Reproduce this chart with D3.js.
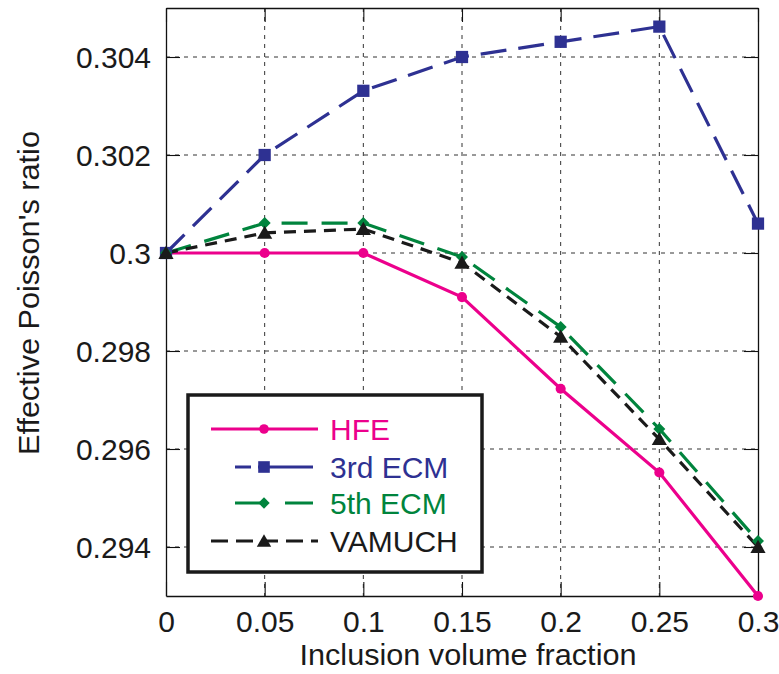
<!DOCTYPE html>
<html><head><meta charset="utf-8">
<script src="https://cdn.jsdelivr.net/npm/d3@7"></script>
<style>body{margin:0;background:#fff}svg{display:block}</style>
</head><body>
<svg id="c" width="779" height="674"></svg>
<script>
const xValues = [0, 0.05, 0.1, 0.15, 0.2, 0.25, 0.3];
const hfe     = [0.3, 0.3, 0.3, 0.2991, 0.29723, 0.29552, 0.293];
const ecm3    = [0.3, 0.302, 0.30331, 0.304, 0.30431, 0.30462, 0.3006];
const ecm5    = [0.3, 0.30061, 0.30061, 0.29992, 0.29849, 0.29641, 0.29412];
const vamuch  = [0.3, 0.30041, 0.30049, 0.2998, 0.29829, 0.2962, 0.294];
const xTicks = [0, 0.05, 0.1, 0.15, 0.2, 0.25, 0.3];
const xTickLabels = ["0", "0.05", "0.1", "0.15", "0.2", "0.25", "0.3"];
const yTicks = [0.294, 0.296, 0.298, 0.3, 0.302, 0.304];
const yTickLabels = ["0.294", "0.296", "0.298", "0.3", "0.302", "0.304"];
const seriesNames = ["HFE", "3rd ECM", "5th ECM", "VAMUCH"];

const series = [
  {name: seriesNames[0], vals: hfe, color: "#EC008C", dash: null, marker: "circle", legDash: null, lx1: 211, lx2: 318},
  {name: seriesNames[1], vals: ecm3, color: "#2E3192", dash: "26,12", marker: "square", legDash: "16,7,200", lx1: 235, lx2: 313},
  {name: seriesNames[2], vals: ecm5, color: "#00843D", dash: "26,14", marker: "diamond", legDash: "29,21,40", lx1: 235, lx2: 313},
  {name: seriesNames[3], vals: vamuch, color: "#1a1a1a", dash: "12,8", marker: "triangle", legDash: "17,8", lx1: 211, lx2: 318}
];

const svg = d3.select("#c");
const L = 166, R = 758, T = 8, B = 596;
const x = d3.scaleLinear().domain([0, 0.3]).range([L, R]);
const y = d3.scaleLinear().domain([0.293, 0.305]).range([B, T]);
const font = "Liberation Sans, Arial, sans-serif";

// grid
const g = svg.append("g");
g.selectAll(".gx").data(xTicks.slice(1, -1)).enter().append("line")
  .attr("x1", d => x(d)).attr("x2", d => x(d)).attr("y1", T).attr("y2", B)
  .attr("stroke", "#333").attr("stroke-width", 1).attr("stroke-dasharray", "4,5");
g.selectAll(".gy").data(yTicks).enter().append("line")
  .attr("x1", L).attr("x2", R).attr("y1", d => y(d)).attr("y2", d => y(d))
  .attr("stroke", "#333").attr("stroke-width", 1).attr("stroke-dasharray", "4,5");

// axes
const tl = 14;
const xAxis = d3.axisBottom(x).tickValues(xTicks).tickFormat((d, i) => xTickLabels[i]).tickSizeInner(-tl).tickSizeOuter(0).tickPadding(14);
const yAxis = d3.axisLeft(y).tickValues(yTicks).tickFormat((d, i) => yTickLabels[i]).tickSizeInner(-tl).tickSizeOuter(0).tickPadding(15);
const xa = svg.append("g").attr("transform", `translate(0,${B})`).call(xAxis);
const ya = svg.append("g").attr("transform", `translate(${L},0)`).call(yAxis);
const xt = svg.append("g").attr("transform", `translate(0,${T})`).call(d3.axisTop(x).tickValues(xTicks).tickFormat("").tickSizeInner(-tl).tickSizeOuter(0));
const yr = svg.append("g").attr("transform", `translate(${R},0)`).call(d3.axisRight(y).tickValues(yTicks).tickFormat("").tickSizeInner(-tl).tickSizeOuter(0));
[xa, ya, xt, yr].forEach(a => {
  a.select(".domain").attr("stroke", "#111").attr("stroke-width", 1.3);
  a.selectAll(".tick line").attr("stroke", "#111").attr("stroke-width", 1.1);
  a.selectAll("text").attr("font-family", font).attr("font-size", 30).attr("fill", "#1a1a1a");
});
xa.selectAll("text").attr("dy", "0.72em");
ya.selectAll("text").attr("dy", "0.35em");

// lines
const line = d3.line().x((d, i) => x(xValues[i])).y(d => y(d));
series.forEach(s => {
  svg.append("path").datum(s.vals).attr("d", line).attr("fill", "none")
    .attr("stroke", s.color).attr("stroke-width", 3.2)
    .attr("stroke-dasharray", s.dash);
});
function drawMarker(sel, type, cx, cy, color, scale) {
  scale = scale || 1;
  const sym = {circle: d3.symbolCircle, square: d3.symbolSquare, diamond: d3.symbolSquare, triangle: d3.symbolTriangle}[type];
  const size = {circle: 80, square: 150, diamond: 72, triangle: 100}[type] * scale;
  sel.append("path").attr("d", d3.symbol().type(sym).size(size)())
    .attr("transform", `translate(${cx},${cy + (type === "triangle" ? 1.5 : 0)})` + (type === "diamond" ? " rotate(45)" : ""))
    .attr("fill", color);
}
series.forEach(s => {
  s.vals.forEach((v, i) => drawMarker(svg, s.marker, x(xValues[i]), y(v), s.color));
});

// legend
const lg = svg.append("g");
lg.append("rect").attr("x", 188).attr("y", 395).attr("width", 294).attr("height", 177)
  .attr("fill", "#fff").attr("stroke", "#1a1a1a").attr("stroke-width", 3.5);
const rowsY = [429, 467, 503, 541];
series.forEach((s, i) => {
  const yy = rowsY[i];
  lg.append("line").attr("x1", s.lx1).attr("x2", s.lx2).attr("y1", yy).attr("y2", yy)
    .attr("stroke", s.color).attr("stroke-width", 3.2).attr("stroke-dasharray", s.legDash);
  drawMarker(lg, s.marker, 264, yy, s.color, 0.9);
  lg.append("text").attr("x", 330).attr("y", yy).attr("dy", "0.36em")
    .attr("font-family", font).attr("font-size", 30).attr("fill", s.color).text(s.name);
});

// axis titles
svg.append("text").attr("x", 468).attr("y", 665).attr("text-anchor", "middle")
  .attr("font-family", font).attr("font-size", 30).attr("fill", "#1a1a1a")
  .attr("textLength", 337).attr("lengthAdjust", "spacingAndGlyphs").text("Inclusion volume fraction");
svg.append("text").attr("transform", `translate(39,293) rotate(-90)`).attr("text-anchor", "middle")
  .attr("font-family", font).attr("font-size", 29).attr("fill", "#1a1a1a")
  .attr("textLength", 324).attr("lengthAdjust", "spacingAndGlyphs").text("Effective Poisson's ratio");
</script>
</body></html>
